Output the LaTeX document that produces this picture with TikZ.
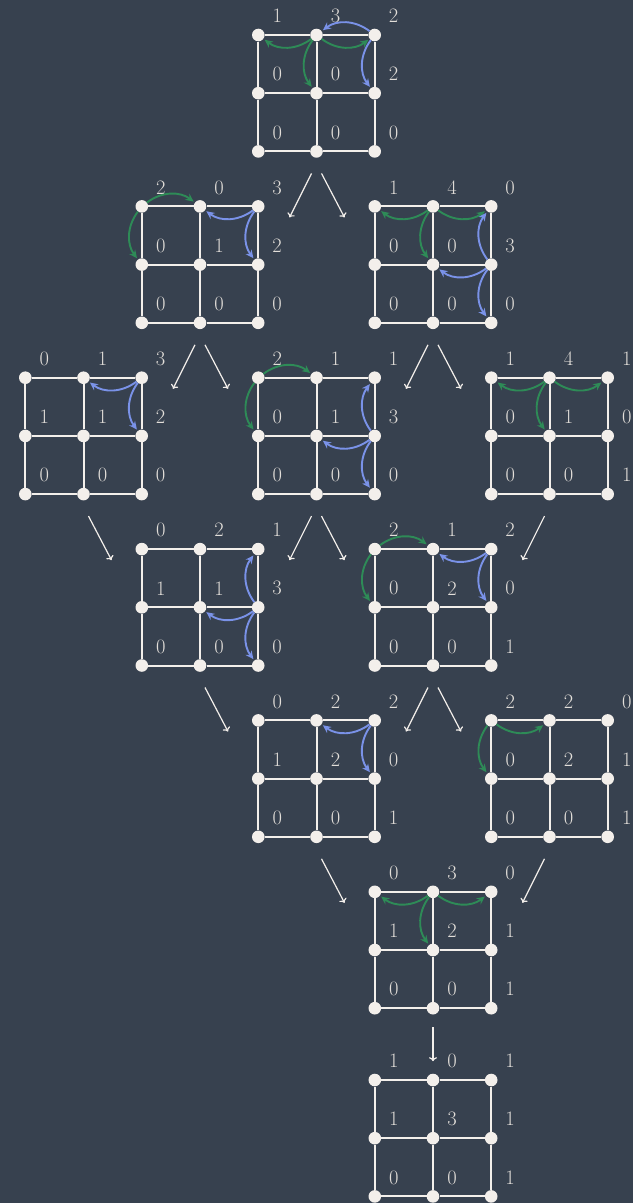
\documentclass[tikz,border=0pt]{standalone}
\usepackage{fontspec}
\usetikzlibrary{arrows.meta,calc}
\definecolor{bg}{RGB}{55,65,79}
\definecolor{ink}{RGB}{243,239,235}
\definecolor{lab}{RGB}{226,222,217}
\definecolor{grn}{RGB}{46,139,87}
\definecolor{blu}{RGB}{122,146,232}
\tikzset{
  dot/.style={circle,fill=ink,inner sep=0pt,minimum size=12.6pt},
  gline/.style={draw=ink,line width=2pt},
  val/.style={text=lab,font=\fontsize{20.5}{20.5}\selectfont,inner sep=0pt},
  garr/.style={draw=grn,line width=1.9pt,-{Stealth[length=8pt,width=7.5pt]},shorten >=1.5pt},
  barr/.style={draw=blu,line width=1.9pt,-{Stealth[length=8pt,width=7.5pt]},shorten >=1.5pt},
  vl/.style={bend left=37},
  vr/.style={bend right=37},
  conn/.style={draw=ink,line width=1.2pt,-{To[length=4pt,width=8pt]}}
}
\newcommand\valgrid[4]{%
  \foreach \i in {0,1,2}{\foreach \j in {0,1,2}{%
    \node[dot] (#1-\i-\j) at ({#2+\i*58.2},{#3+\j*58.2}) {};}}
  \foreach \j in {0,1,2}{%
    \draw[gline] (#1-0-\j) -- (#1-1-\j);
    \draw[gline] (#1-1-\j) -- (#1-2-\j);
    \draw[gline] (#1-\j-0) -- (#1-\j-1);
    \draw[gline] (#1-\j-1) -- (#1-\j-2);}
  \foreach \v [count=\k from 0] in {#4}{%
    \pgfmathtruncatemacro\ci{mod(\k,3)}%
    \pgfmathtruncatemacro\cj{div(\k,3)}%
    \node[val] (#1-v-\ci-\cj) at ({#2+\ci*58.2+19},{#3+\cj*58.2-19}) {\v};}%
}
\newcommand\conn[6]{%
  \coordinate (#1#2s) at ($(#1-1-2)+(#3,#4)$);
  \coordinate (#1#2e) at ($(#1-1-2)+(#5,#6)$);
  \draw[conn] (#1#2s) -- (#1#2e);
}
\begin{document}
\begin{tikzpicture}[x=1pt,y=-1pt]
\fill[bg] (0,0) rectangle (633,1203);
\useasboundingbox (0,0) rectangle (633,1203);

\valgrid{A}{258.3}{35}{1,3,2,0,0,2,0,0,0}
\valgrid{B}{141.8}{206.4}{2,0,3,0,1,2,0,0,0}
\valgrid{C}{374.8}{206.4}{1,4,0,0,0,3,0,0,0}
\valgrid{D}{25.3}{377.7}{0,1,3,1,1,2,0,0,0}
\valgrid{E}{258.3}{377.7}{2,1,1,0,1,3,0,0,0}
\valgrid{F}{491.3}{377.7}{1,4,1,0,1,0,0,0,1}
\valgrid{G}{141.8}{549.1}{0,2,1,1,1,3,0,0,0}
\valgrid{H}{374.8}{549.1}{2,1,2,0,2,0,0,0,1}
\valgrid{I}{258.3}{720.4}{0,2,2,1,2,0,0,0,1}
\valgrid{J}{491.3}{720.4}{2,2,0,0,2,1,0,0,1}
\valgrid{K}{374.8}{891.8}{0,3,0,1,2,1,0,0,1}
\valgrid{L}{374.8}{1080}{1,0,1,1,3,1,0,0,1}

% firing arrows
\draw[garr] (A-1-0) to[vl] (A-0-0);
\draw[garr] (A-1-0) to[vr] (A-2-0);
\draw[garr] (A-1-0) to[vr] (A-1-1);
\draw[barr] (A-2-0) to[vr] (A-1-0);
\draw[barr] (A-2-0) to[vr] (A-2-1);

\draw[garr] (B-0-0) to[vl] (B-1-0);
\draw[garr] (B-0-0) to[vr] (B-0-1);
\draw[barr] (B-2-0) to[vl] (B-1-0);
\draw[barr] (B-2-0) to[vr] (B-2-1);

\draw[garr] (C-1-0) to[vl] (C-0-0);
\draw[garr] (C-1-0) to[vr] (C-2-0);
\draw[garr] (C-1-0) to[vr] (C-1-1);
\draw[barr] (C-2-1) to[vl] (C-2-0);
\draw[barr] (C-2-1) to[vl] (C-1-1);
\draw[barr] (C-2-1) to[vr] (C-2-2);

\draw[barr] (D-2-0) to[vl] (D-1-0);
\draw[barr] (D-2-0) to[vr] (D-2-1);

\draw[garr] (E-0-0) to[vl] (E-1-0);
\draw[garr] (E-0-0) to[vr] (E-0-1);
\draw[barr] (E-2-1) to[vl] (E-2-0);
\draw[barr] (E-2-1) to[vl] (E-1-1);
\draw[barr] (E-2-1) to[vr] (E-2-2);

\draw[garr] (F-1-0) to[vl] (F-0-0);
\draw[garr] (F-1-0) to[vr] (F-2-0);
\draw[garr] (F-1-0) to[vr] (F-1-1);

\draw[barr] (G-2-1) to[vl] (G-2-0);
\draw[barr] (G-2-1) to[vl] (G-1-1);
\draw[barr] (G-2-1) to[vr] (G-2-2);

\draw[garr] (H-0-0) to[vl] (H-1-0);
\draw[garr] (H-0-0) to[vr] (H-0-1);
\draw[barr] (H-2-0) to[vl] (H-1-0);
\draw[barr] (H-2-0) to[vr] (H-2-1);

\draw[barr] (I-2-0) to[vl] (I-1-0);
\draw[barr] (I-2-0) to[vr] (I-2-1);

\draw[garr] (J-0-0) to[vr] (J-1-0);
\draw[garr] (J-0-0) to[vr] (J-0-1);

\draw[garr] (K-1-0) to[vl] (K-0-0);
\draw[garr] (K-1-0) to[vr] (K-2-0);
\draw[garr] (K-1-0) to[vr] (K-1-1);

% connectors between states
\conn{A}{B}{-5}{22}{-27}{66}
\conn{A}{C}{5}{22}{28}{66}
\conn{B}{D}{-5}{22}{-27}{66}
\conn{B}{E}{5}{22}{28}{66}
\conn{C}{E}{-5}{22}{-27}{66}
\conn{C}{F}{5}{22}{28}{66}
\conn{D}{G}{5}{22}{28}{66}
\conn{E}{G}{-5}{22}{-27}{66}
\conn{E}{H}{5}{22}{28}{66}
\conn{F}{H}{-5}{22}{-27}{66}
\conn{G}{I}{5}{22}{28}{66}
\conn{H}{I}{-5}{22}{-27}{66}
\conn{H}{J}{5}{22}{28}{66}
\conn{I}{K}{5}{22}{28}{66}
\conn{J}{K}{-5}{22}{-27}{66}
\conn{K}{L}{0}{19}{0}{53}
\end{tikzpicture}
\end{document}
